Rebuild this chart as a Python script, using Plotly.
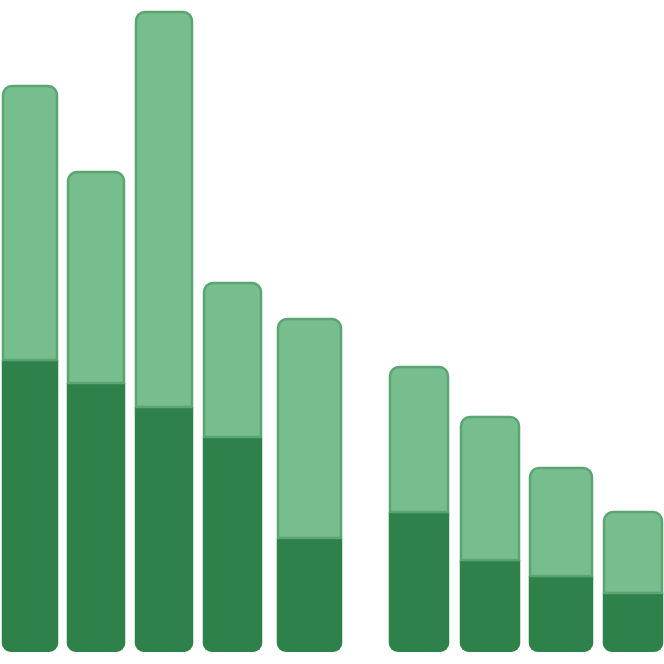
import plotly.graph_objects as go

categories = ["A", "B", "C", "D", "E", "F", "G", "H", "I"]
x_pos = [30, 96, 164, 232.5, 309.5, 419, 490, 561, 633]
bar_w = [54, 56, 56, 57, 63, 58, 58, 62, 58]
totals = [566, 480, 640, 369, 333, 285, 235, 184, 140]
lower = [292, 269, 245, 215, 114, 140, 92, 76, 59]

# split the dark segment around a shifted zero so that relative stacking
# rounds both the top of the bar and its bottom
ZERO = 30
OUTLINE = 2.5
upper = [t - l for t, l in zip(totals, lower)]
dark_below = [-ZERO for _ in lower]
dark_above = [l - ZERO for l in lower]
dark_w = [w + OUTLINE for w in bar_w]

fig = go.Figure()
fig.add_trace(go.Bar(
    x=x_pos, y=dark_below, width=dark_w,
    marker=dict(color="#2e8149", line=dict(width=0), cornerradius=9),
    hovertext=categories, name="lower",
))
fig.add_trace(go.Bar(
    x=x_pos, y=dark_above, width=dark_w,
    marker=dict(color="#2e8149", line=dict(width=0), cornerradius=9),
    hovertext=categories, name="lower",
))
fig.add_trace(go.Bar(
    x=x_pos, y=upper, width=bar_w,
    marker=dict(color="#77be8e", line=dict(color="#5ba572", width=OUTLINE), cornerradius=8),
    hovertext=categories, name="upper",
))
fig.update_layout(
    barmode="relative",
    width=664, height=664,
    margin=dict(l=0, r=0, t=0, b=0),
    paper_bgcolor="white", plot_bgcolor="white",
    showlegend=False,
    xaxis=dict(range=[0, 664], visible=False, fixedrange=True),
    yaxis=dict(range=[-12 - ZERO, 652 - ZERO], visible=False, fixedrange=True),
)
fig.write_html("out.html", config={"displayModeBar": False},
               post_script="document.body.style.margin='0';")
